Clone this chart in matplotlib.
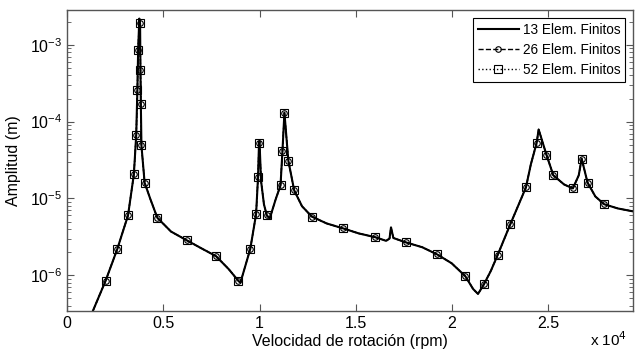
import numpy as np
import matplotlib.pyplot as plt
from matplotlib.ticker import FixedLocator, FuncFormatter, LogLocator, NullFormatter

plt.rcParams['font.family'] = ['Liberation Sans', 'DejaVu Sans']

# velocidad de rotacion (rpm) y amplitud (m)
rpm = [1200, 1345, 2005, 2614, 3173, 3477, 3600, 3660, 3700, 3760,
       3800, 3820, 3840, 3870, 4036, 4340, 4695, 5406, 6218, 6980,
       7741, 8400, 8909, 9010, 9518, 9822, 9924, 9975, 10000, 10080,
       10230, 10380, 10533, 10838, 11091, 11193, 11294, 11497, 11802, 12208,
       12716, 13477, 14340, 15152, 16015, 16573, 16750, 16827, 16950, 17589,
       18452, 19213, 19975, 20685, 21091, 21345, 21650, 22005, 22360, 23020,
       23832, 24086, 24390, 24492, 24898, 25254, 25812, 26269, 26574, 26726,
       27030, 27436, 27893, 28603, 29365, 29500]
amp_13 = [2.9e-7, 3.4e-7, 8.4e-7, 2.18e-6, 6.0e-6, 2.05e-5, 6.7e-5, 2.6e-4, 8.6e-4, 2.2e-3,
          1.9e-3, 4.7e-4, 1.7e-4, 4.9e-5, 1.6e-5, 9.7e-6, 5.6e-6, 3.7e-6, 2.85e-6, 2.24e-6,
          1.77e-6, 1.2e-6, 8.4e-7, 8.0e-7, 2.18e-6, 6.2e-6, 1.9e-5, 5.3e-5, 5.6e-5, 1.7e-5,
          8.4e-6, 6.0e-6, 5.5e-6, 9.7e-6, 1.48e-5, 4.2e-5, 1.31e-4, 3.1e-5, 1.27e-5, 7.9e-6,
          5.8e-6, 4.73e-6, 4.07e-6, 3.5e-6, 3.12e-6, 2.8e-6, 3.0e-6, 4.2e-6, 3.05e-6, 2.68e-6,
          2.31e-6, 1.87e-6, 1.43e-6, 9.7e-7, 6.6e-7, 5.7e-7, 7.6e-7, 1.13e-6, 1.82e-6, 4.6e-6,
          1.39e-5, 2.77e-5, 5.3e-5, 7.9e-5, 3.7e-5, 2.0e-5, 1.52e-5, 1.35e-5, 2.0e-5, 3.3e-5,
          1.61e-5, 1.06e-5, 8.4e-6, 7.4e-6, 6.8e-6, 6.7e-6]
amp_26 = amp_13
amp_52 = amp_13
# indices de los puntos con marcador
mark_idx = [2, 3, 4, 5, 6, 7, 8, 10, 11, 12, 13, 14, 16, 18, 20, 22, 24, 25, 26, 27,
            31, 34, 35, 36, 37, 38, 40, 42, 44, 49, 51, 53, 56, 58, 59, 60, 62, 64,
            65, 67, 69, 70, 72]

fig = plt.figure(figsize=(6.37, 3.56), dpi=100)
ax = fig.add_axes([0.105, 0.126, 0.889, 0.846])

ax.semilogy(rpm, amp_13, color='black', lw=1.5, ls='-', label='13 Elem. Finitos')
ax.semilogy(rpm, amp_26, color='black', lw=1.0, ls='--', marker='o', ms=4,
            mfc='none', mec='black', mew=0.8, markevery=mark_idx, label='26 Elem. Finitos')
ax.semilogy(rpm, amp_52, color='black', lw=1.0, ls=':', marker='s', ms=5.5,
            mfc='none', mec='black', mew=0.8, markevery=mark_idx, label='52 Elem. Finitos')

ax.set_xlim(0, 29400)
ax.set_ylim(3.4e-7, 2.85e-3)
ax.xaxis.set_major_locator(FixedLocator([0, 5000, 10000, 15000, 20000, 25000]))
ax.xaxis.set_major_formatter(FuncFormatter(lambda v, p: '%g' % (v / 1e4)))
ax.yaxis.set_major_locator(LogLocator(base=10, numticks=10))
ax.yaxis.set_minor_locator(LogLocator(base=10, subs=np.arange(2, 10), numticks=10))
ax.yaxis.set_minor_formatter(NullFormatter())

for s in ax.spines.values():
    s.set_color('#555555')
    s.set_linewidth(1.0)
ax.tick_params(which='both', direction='in', top=True, right=True, color='#555555',
               labelsize=11.5, labelcolor='black')
ax.tick_params(which='major', length=5)
ax.tick_params(which='minor', length=3)

ax.set_xlabel('Velocidad de rotación (rpm)', fontsize=11.5, labelpad=2)
ax.set_ylabel('Amplitud (m)', fontsize=11.5, labelpad=6)
fig.text(0.955, 0.02, r'x 10$^{4}$', fontsize=11, ha='center', va='bottom')

leg = ax.legend(loc='upper right', fontsize=9.8, frameon=True, fancybox=False,
                edgecolor='black', framealpha=1, handlelength=3.0, handletextpad=0.3,
                borderpad=0.35, labelspacing=0.45, borderaxespad=0.6)
leg.get_frame().set_linewidth(0.8)

fig.savefig('out.png', dpi=100)
